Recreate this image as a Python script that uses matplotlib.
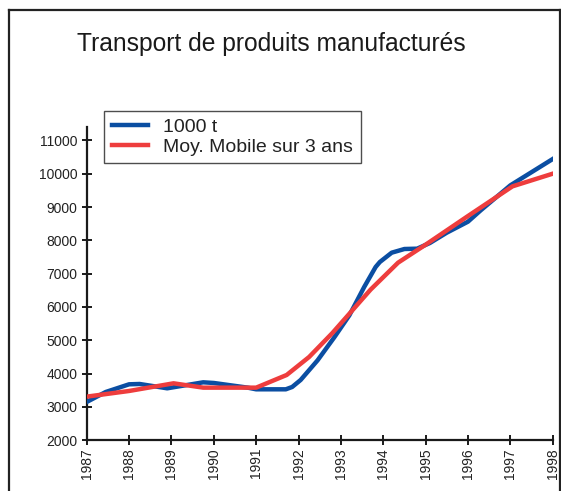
import matplotlib
matplotlib.use("Agg")
import matplotlib.pyplot as plt
from matplotlib.lines import Line2D

plt.rcParams['font.family'] = ['Liberation Sans', 'DejaVu Sans']

title = "Transport de produits manufacturés"
label_raw = "1000 t"
label_ma = "Moy. Mobile sur 3 ans"

years_raw = [1987.0, 1987.45, 1988.0, 1988.25, 1988.9, 1989.75, 1990.0, 1990.8,
             1991.0, 1991.7, 1991.85, 1992.05, 1992.45, 1992.85, 1993.2, 1993.55,
             1993.82, 1993.92, 1994.2, 1994.5, 1994.8, 1995.1, 1995.5, 1996.0,
             1996.3, 1997.0, 1998.0]
vals_raw = [3150, 3450, 3680, 3690, 3560, 3740, 3720, 3580,
            3530, 3530, 3600, 3810, 4400, 5100, 5750, 6600,
            7200, 7350, 7630, 7740, 7750, 7920, 8230, 8560,
            8900, 9650, 10440]

years_ma = [1987.0, 1988.0, 1989.05, 1989.75, 1991.0, 1991.72, 1992.25, 1992.8,
            1993.7, 1994.35, 1995.0, 1996.0, 1997.05, 1998.0]
vals_ma = [3310, 3480, 3710, 3580, 3580, 3960, 4500, 5220,
           6520, 7330, 7870, 8730, 9620, 10000]

xticks = list(range(1987, 1999))
yticks = list(range(2000, 11001, 1000))

W, H = 561, 491
fig = plt.figure(figsize=(W / 100, H / 100), dpi=100)
ax = fig.add_axes([86.7 / W, 1 - 440.3 / H, (552.7 - 86.7) / W, (440.3 - 126.7) / H])

blue = '#0b4ea2'
red = '#ee3d3d'
ax.plot(years_raw, vals_raw, color=blue, lw=3.2, solid_joinstyle='round', label=label_raw, zorder=3)
ax.plot(years_ma, vals_ma, color=red, lw=3.2, solid_joinstyle='round', label=label_ma, zorder=4)

ax.set_xlim(1987, 1998)
ax.set_ylim(2000, 11410)
ax.set_xticks(xticks)
ax.set_xticklabels([str(x) for x in xticks], rotation=90)
ax.set_yticks(yticks)
ax.set_yticklabels([str(y) for y in yticks])
for s in ['top', 'right']:
    ax.spines[s].set_visible(False)
for s in ['left', 'bottom']:
    ax.spines[s].set_linewidth(1.6)
    ax.spines[s].set_color('#1a1a1a')
ax.tick_params(direction='inout', length=7, width=1.4, colors='#1a1a1a', labelsize=10, labelcolor='#222222')
ax.tick_params(axis='y', pad=3)
ax.tick_params(axis='x', pad=2)

leg = fig.legend(handles=[Line2D([], [], color=blue, lw=3.2), Line2D([], [], color=red, lw=3.2)],
                 labels=[label_raw, label_ma],
                 loc='upper left', bbox_to_anchor=(104 / W, 1 - 110.7 / H),
                 fontsize=14, frameon=True, fancybox=False, shadow=False,
                 handlelength=1.85, handletextpad=0.8, borderpad=0.4, labelspacing=0.1,
                 borderaxespad=0)
leg.get_frame().set_edgecolor('#222222')
leg.get_frame().set_linewidth(1.0)
for t in leg.get_texts():
    t.set_color('#222222')

fig.text(271 / W, 1 - 44 / H, title, ha='center', va='center', fontsize=17.7, color='#1a1a1a')

# figure border
fig.add_artist(Line2D([9 / W, 9 / W], [0, 1 - 10 / H], transform=fig.transFigure, color='#222222', lw=1.6))
fig.add_artist(Line2D([9 / W, 1], [1 - 10 / H, 1 - 10 / H], transform=fig.transFigure, color='#222222', lw=1.6))
fig.add_artist(Line2D([559.5 / W, 559.5 / W], [0, 1 - 10 / H], transform=fig.transFigure, color='#222222', lw=1.6))

fig.savefig('out.png', dpi=100)
